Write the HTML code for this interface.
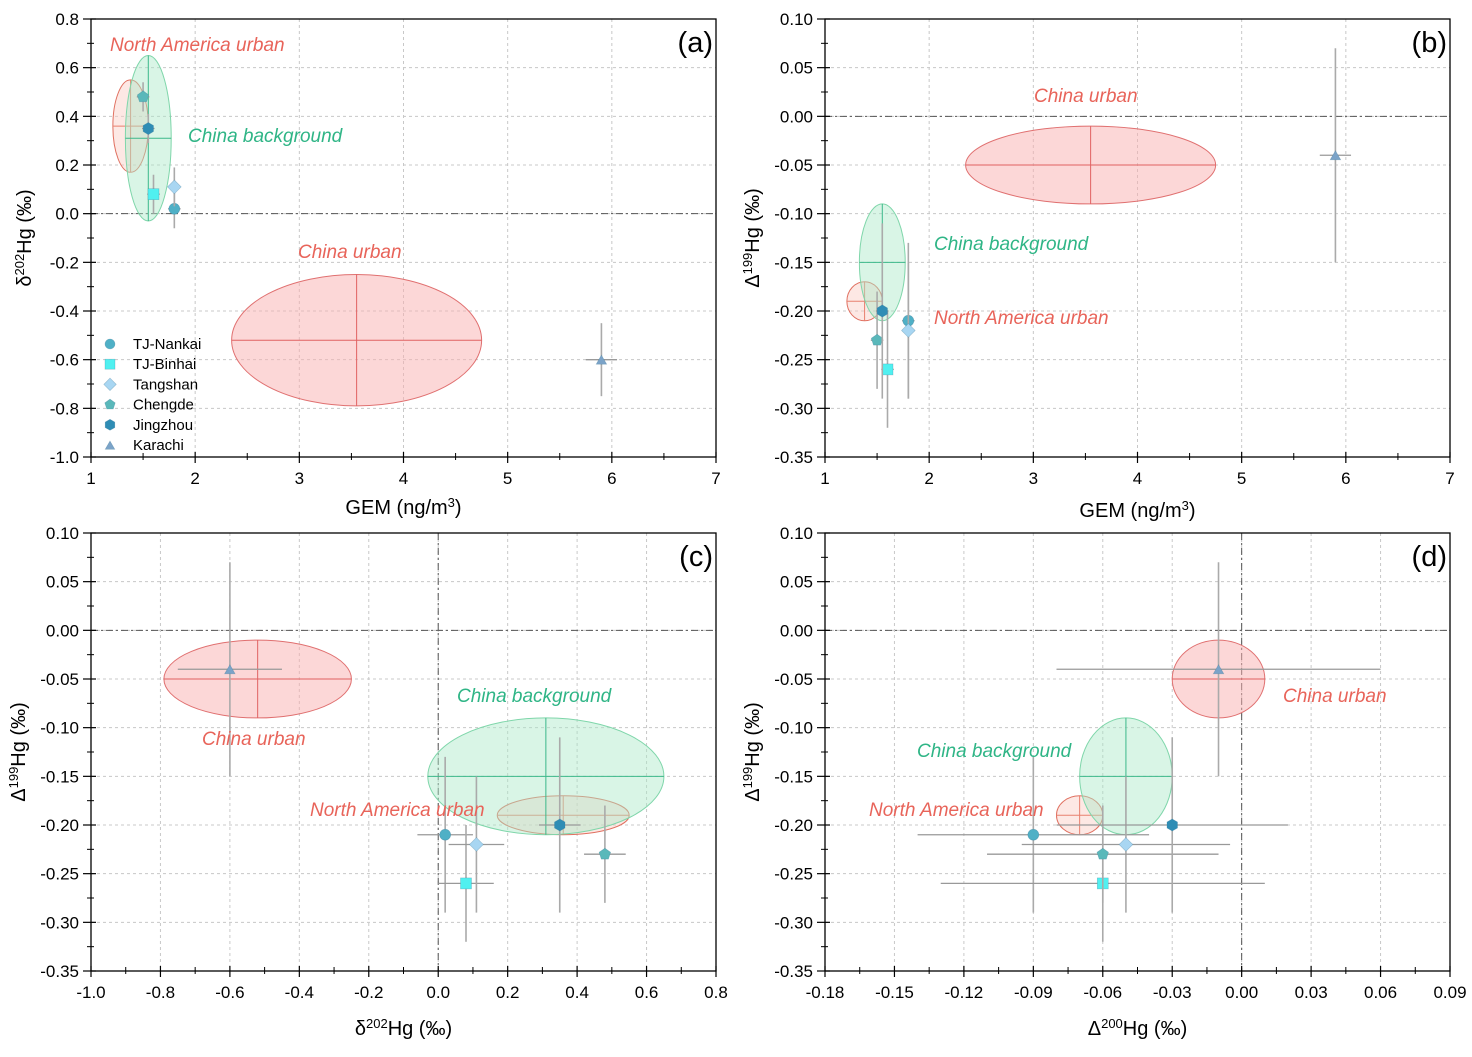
<!DOCTYPE html>
<html><head><meta charset="utf-8"><style>
body{margin:0;background:#fff}
svg{font-family:"Liberation Sans",Arial,sans-serif}
</style></head><body>
<svg id="fig" width="1472" height="1052" viewBox="0 0 1472 1052" xmlns="http://www.w3.org/2000/svg"></svg>
<script>
// ---- data ----
const sampleNames = ["TJ-Nankai","TJ-Binhai","Tangshan","Chengde","Jingzhou","Karachi"];
const gem       = [1.80, 1.60, 1.80, 1.50, 1.55, 5.90];
const gemErr    = [0.06, 0.06, 0.06, 0.06, 0.06, 0.15];
const d202      = [0.02, 0.08, 0.11, 0.48, 0.35, -0.60];
const d202Err   = [0.08, 0.08, 0.08, 0.06, 0.06, 0.15];
const D199      = [-0.21, -0.26, -0.22, -0.23, -0.20, -0.04];
const D199Err   = [0.08, 0.06, 0.07, 0.05, 0.09, 0.11];
const D200      = [-0.09, -0.06, -0.05, -0.06, -0.03, -0.01];
const D200Err   = [0.05, 0.07, 0.045, 0.05, 0.05, 0.07];
const regionNames = ["North America urban","China background","China urban"];
const regGem    = [1.38, 1.55, 3.55];
const regGemSd  = [0.17, 0.22, 1.20];
const regD202   = [0.36, 0.31, -0.52];
const regD202Sd = [0.19, 0.34, 0.27];
const regD199   = [-0.19, -0.15, -0.05];
const regD199Sd = [0.02, 0.06, 0.04];
const regD200   = [-0.07, -0.05, -0.01];
const regD200Sd = [0.01, 0.02, 0.02];

const NS="http://www.w3.org/2000/svg";
const svg=document.getElementById('fig');
function el(tag,attrs,parent){const e=document.createElementNS(NS,tag);for(const k in attrs)e.setAttribute(k,attrs[k]);(parent||svg).appendChild(e);return e;}
const colors=["#4fb0c6","#50f0f0","#a8d6f2","#5ab8ba","#2f8db5","#7ba3c8"];
const shapes=["circle","square","diamond","pentagon","hexagon","triangle"];
const regFill=["rgba(250,205,195,0.45)","rgba(170,232,200,0.45)","rgba(250,175,175,0.5)"];
const regStroke=["#e07060","#7fd6aa","#e07070"];
const regLine=["#e8806e","#3cb88a","#e06262"];

function marker(g,shape,x,y,c,r){
  let e;
  if(shape==="circle") e=el('circle',{cx:x,cy:y,r:r},g);
  else if(shape==="square") e=el('rect',{x:x-r,y:y-r,width:2*r,height:2*r},g);
  else { let n=shape==="diamond"?4:shape==="pentagon"?5:shape==="hexagon"?6:3;
    let rr=shape==="diamond"?r*1.25:r*1.1; let off=shape==="hexagon"?Math.PI/6:-Math.PI/2;
    if(shape==="diamond")off=-Math.PI/2; let pts=[];
    for(let i=0;i<n;i++){const a=off+i*2*Math.PI/n;pts.push((x+rr*Math.cos(a)).toFixed(1)+","+(y+rr*Math.sin(a)+(shape==="triangle"?1.5:0)).toFixed(1));}
    e=el('polygon',{points:pts.join(" ")},g);}
  e.setAttribute('fill',c);e.setAttribute('stroke',"rgba(60,120,150,0.4)");e.setAttribute('stroke-width',0.6);
  return e;
}

function panel(o){
  const g=el('g',{});
  
  
  const X=v=>o.x0+(v-o.xmin)/(o.xmax-o.xmin)*(o.x1-o.x0);
  const Y=v=>o.y1-(v-o.ymin)/(o.ymax-o.ymin)*(o.y1-o.y0);
  o.xt.forEach(t=>{el('line',{x1:X(t),x2:X(t),y1:o.y0,y2:o.y1,stroke:"#c8c8c8","stroke-dasharray":"3,3","stroke-width":1},g);});
  o.yt.forEach(t=>{el('line',{x1:o.x0,x2:o.x1,y1:Y(t),y2:Y(t),stroke:"#c8c8c8","stroke-dasharray":"3,3","stroke-width":1},g);});
  if(o.refY!==undefined) el('line',{x1:o.x0,x2:o.x1,y1:Y(o.refY),y2:Y(o.refY),stroke:"#555","stroke-dasharray":"7,3,2,3","stroke-width":1},g);
  if(o.refX!==undefined) el('line',{x1:X(o.refX),x2:X(o.refX),y1:o.y0,y2:o.y1,stroke:"#555","stroke-dasharray":"7,3,2,3","stroke-width":1},g);
  for(let i=0;i<3;i++){
    const cx=X(o.rx[i]),cy=Y(o.ry[i]);
    const rxp=Math.abs(X(o.rx[i]+o.rxs[i])-cx),ryp=Math.abs(Y(o.ry[i]+o.rys[i])-cy);
    const e=el('ellipse',{cx:cx,cy:cy,rx:rxp,ry:ryp,fill:regFill[i],stroke:regStroke[i],"stroke-width":1},g);
    
    
    el('line',{x1:cx-rxp,x2:cx+rxp,y1:cy,y2:cy,stroke:regLine[i],"stroke-width":1},g);
    el('line',{x1:cx,x2:cx,y1:cy-ryp,y2:cy+ryp,stroke:regLine[i],"stroke-width":1},g);
  }
  for(let i=0;i<6;i++){
    const cx=X(o.sx[i]),cy=Y(o.sy[i]);
    if(o.sxe) el('line',{x1:X(o.sx[i]-o.sxe[i]),x2:X(o.sx[i]+o.sxe[i]),y1:cy,y2:cy,stroke:"#999","stroke-width":1.3},g);
    if(o.sye) el('line',{x1:cx,x2:cx,y1:Y(o.sy[i]-o.sye[i]),y2:Y(o.sy[i]+o.sye[i]),stroke:"#aaa","stroke-width":1.6},g);
    const m=marker(g,shapes[i],cx,cy,colors[i],5.5);
    
    
  }
  o.labels.forEach((l,i)=>{
    const t=el('text',{x:l[0],y:l[1],fill:i===1?"#2fb586":"#e8645a","font-size":19,"font-style":"italic"},g);
    t.textContent=regionNames[i];
    
    
  });
  el('rect',{x:o.x0,y:o.y0,width:o.x1-o.x0,height:o.y1-o.y0,fill:"none",stroke:"#000","stroke-width":1.3},g);
  o.xt.forEach((t,k)=>{
    el('line',{x1:X(t),x2:X(t),y1:o.y1-5,y2:o.y1+6,stroke:"#000","stroke-width":1.2},g);
    if(k<o.xt.length-1){const m=(t+o.xt[k+1])/2;el('line',{x1:X(m),x2:X(m),y1:o.y1-4,y2:o.y1+3,stroke:"#000","stroke-width":1},g);}
    const tx=el('text',{x:X(t),y:o.y1+27,"text-anchor":"middle","font-size":17,fill:"#000"},g);tx.textContent=o.xf(t);
    
    
  });
  o.yt.forEach((t,k)=>{
    el('line',{x1:o.x0-8,x2:o.x0+5,y1:Y(t),y2:Y(t),stroke:"#000","stroke-width":1.2},g);
    if(k<o.yt.length-1){const m=(t+o.yt[k+1])/2;el('line',{x1:o.x0-4,x2:o.x0+3,y1:Y(m),y2:Y(m),stroke:"#000","stroke-width":1},g);}
    const ty=el('text',{x:o.x0-12,y:Y(t)+6,"text-anchor":"end","font-size":17,fill:"#000"},g);ty.textContent=o.yf(t);
    
    
  });
  const pt=el('text',{x:o.x1-3,y:o.y0+33,"text-anchor":"end","font-size":29,fill:"#000"},g);pt.textContent="("+o.tag+")";
  
  
  const xa=el('text',{x:(o.x0+o.x1)/2,y:o.y1+o.xtOff,"text-anchor":"middle","font-size":20,fill:"#000"},g);xa.innerHTML=o.xtitle;
  
  
  const yx=o.x0-o.ytOff, yy=(o.y0+o.y1)/2;
  const ya=el('text',{x:yx,y:yy,"text-anchor":"middle","font-size":20,fill:"#000",transform:`rotate(-90 ${yx} ${yy})`},g);ya.innerHTML=o.ytitle;
  
  
  return g;
}
const rng=(a,b,s)=>{const r=[];for(let v=a;v<=b+1e-9;v+=s)r.push(Math.round(v*1000)/1000);return r;};
const Y199="Δ<tspan baseline-shift='super' font-size='13'>199</tspan>Hg (‰)";
const D202T="δ<tspan baseline-shift='super' font-size='13'>202</tspan>Hg (‰)";
const GEMT="GEM (ng/m<tspan baseline-shift='super' font-size='13'>3</tspan>)";
const f2=v=>v.toFixed(2);
panel({tag:'a',x0:91,x1:716,y0:19,y1:457,xmin:1,xmax:7,ymin:-1.0,ymax:0.8,xt:rng(1,7,1),yt:rng(-1,0.8,0.2),
  xf:v=>String(v),yf:v=>v.toFixed(1),refY:0,
  sx:gem,sy:d202,sxe:gemErr,sye:d202Err,rx:regGem,ry:regD202,rxs:regGemSd,rys:regD202Sd,
  labels:[[110,51],[188,142],[298,258]],xtitle:GEMT,ytitle:D202T,xtOff:57,ytOff:60});
panel({tag:'b',x0:825,x1:1450,y0:19,y1:457,xmin:1,xmax:7,ymin:-0.35,ymax:0.10,xt:rng(1,7,1),yt:rng(-0.35,0.10,0.05),
  xf:v=>String(v),yf:f2,refY:0,
  sx:gem,sy:D199,sxe:gemErr,sye:D199Err,rx:regGem,ry:regD199,rxs:regGemSd,rys:regD199Sd,
  labels:[[934,324],[934,250],[1034,102]],xtitle:GEMT,ytitle:Y199,xtOff:60,ytOff:66});
panel({tag:'c',x0:91,x1:716,y0:533,y1:971,xmin:-1.0,xmax:0.8,ymin:-0.35,ymax:0.10,xt:rng(-1,0.8,0.2),yt:rng(-0.35,0.10,0.05),
  xf:v=>v.toFixed(1),yf:f2,refY:0,refX:0,
  sx:d202,sy:D199,sxe:d202Err,sye:D199Err,rx:regD202,ry:regD199,rxs:regD202Sd,rys:regD199Sd,
  labels:[[310,816],[457,702],[202,745]],xtitle:D202T,ytitle:Y199,xtOff:64,ytOff:66});
panel({tag:'d',x0:825,x1:1450,y0:533,y1:971,xmin:-0.18,xmax:0.09,ymin:-0.35,ymax:0.10,xt:rng(-0.18,0.09,0.03),yt:rng(-0.35,0.10,0.05),
  xf:f2,yf:f2,refY:0,refX:0,
  sx:D200,sy:D199,sxe:D200Err,sye:D199Err,rx:regD200,ry:regD199,rxs:regD200Sd,rys:regD199Sd,
  labels:[[869,816],[917,757],[1283,702]],
  xtitle:"Δ<tspan baseline-shift='super' font-size='13'>200</tspan>Hg (‰)",ytitle:Y199,xtOff:64,ytOff:66});
const lg=el('g',{});


for(let i=0;i<6;i++){
  const y=344+i*20.2;
  const m=marker(lg,shapes[i],110,y,colors[i],5);
  
  
  const t=el('text',{x:133,y:y+5,"font-size":15,fill:"#000"},lg);t.textContent=sampleNames[i];
  
  
}
</script>
</body></html>
